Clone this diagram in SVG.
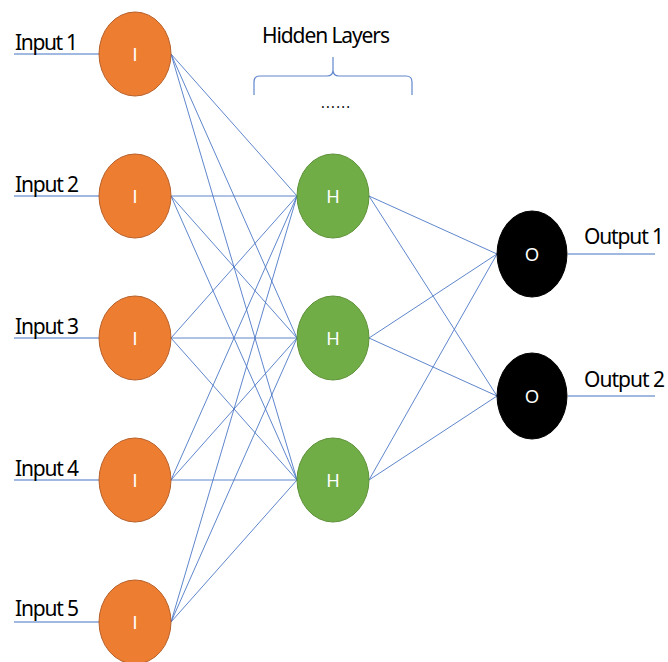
<svg xmlns="http://www.w3.org/2000/svg" width="668" height="662" viewBox="0 0 668 662">
<style>
.lbl{font-family:"Noto Sans","Open Sans",sans-serif;font-size:21px;fill:#000}
.nl{font-family:"Liberation Sans","DejaVu Sans",sans-serif;font-size:18px;fill:#fff;text-anchor:middle}
.in{fill:#ED7D31;stroke:#B8602A;stroke-width:1}
.hid{fill:#70AD47;stroke:#5E9238;stroke-width:1}
.out{fill:#000;stroke:#000;stroke-width:1}
.c line{stroke:#4472C4;stroke-width:1;opacity:0.85}
.io line{stroke:#4472C4;stroke-width:1.2}
</style>
<rect width="668" height="662" fill="#fff"/>
<g id="connectors" class="c">
<line x1="171" y1="54" x2="297" y2="196"/>
<line x1="171" y1="54" x2="297" y2="338"/>
<line x1="171" y1="54" x2="297" y2="480"/>
<line x1="171" y1="196" x2="297" y2="196"/>
<line x1="171" y1="196" x2="297" y2="338"/>
<line x1="171" y1="196" x2="297" y2="480"/>
<line x1="171" y1="338" x2="297" y2="196"/>
<line x1="171" y1="338" x2="297" y2="338"/>
<line x1="171" y1="338" x2="297" y2="480"/>
<line x1="171" y1="480" x2="297" y2="196"/>
<line x1="171" y1="480" x2="297" y2="338"/>
<line x1="171" y1="480" x2="297" y2="480"/>
<line x1="171" y1="622" x2="297" y2="196"/>
<line x1="171" y1="622" x2="297" y2="338"/>
<line x1="171" y1="622" x2="297" y2="480"/>
<line x1="369" y1="196" x2="497" y2="254"/>
<line x1="369" y1="196" x2="497" y2="396"/>
<line x1="369" y1="338" x2="497" y2="254"/>
<line x1="369" y1="338" x2="497" y2="396"/>
<line x1="369" y1="480" x2="497" y2="254"/>
<line x1="369" y1="480" x2="497" y2="396"/>
</g>
<g id="io-lines" class="io">
<line x1="14" y1="54" x2="99" y2="54"/>
<line x1="14" y1="196" x2="99" y2="196"/>
<line x1="14" y1="338" x2="99" y2="338"/>
<line x1="14" y1="480" x2="99" y2="480"/>
<line x1="14" y1="622" x2="99" y2="622"/>
<line x1="568" y1="254" x2="655" y2="254"/>
<line x1="568" y1="396" x2="655" y2="396"/>
</g>
<g id="input1"><ellipse class="in" cx="135" cy="54" rx="36" ry="42"/><text class="nl" x="135" y="61">I</text><text class="lbl" x="15" y="50" textLength="63">Input 1</text></g>
<g id="input2"><ellipse class="in" cx="135" cy="196" rx="36" ry="42"/><text class="nl" x="135" y="203">I</text><text class="lbl" x="15" y="192" textLength="64">Input 2</text></g>
<g id="input3"><ellipse class="in" cx="135" cy="338" rx="36" ry="42"/><text class="nl" x="135" y="345">I</text><text class="lbl" x="15" y="334" textLength="64">Input 3</text></g>
<g id="input4"><ellipse class="in" cx="135" cy="480" rx="36" ry="42"/><text class="nl" x="135" y="487">I</text><text class="lbl" x="15" y="476" textLength="64">Input 4</text></g>
<g id="input5"><ellipse class="in" cx="135" cy="622" rx="36" ry="42"/><text class="nl" x="135" y="629">I</text><text class="lbl" x="15" y="616" textLength="64">Input 5</text></g>
<g id="hidden1"><ellipse class="hid" cx="333" cy="196" rx="36" ry="42"/><text class="nl" x="333" y="203">H</text></g>
<g id="hidden2"><ellipse class="hid" cx="333" cy="338" rx="36" ry="42"/><text class="nl" x="333" y="345">H</text></g>
<g id="hidden3"><ellipse class="hid" cx="333" cy="480" rx="36" ry="42"/><text class="nl" x="333" y="487">H</text></g>
<g id="output1"><ellipse class="out" cx="532" cy="254" rx="35" ry="43"/><text class="nl" x="532" y="261">O</text><text class="lbl" x="584" y="244" textLength="80">Output 1</text></g>
<g id="output2"><ellipse class="out" cx="532" cy="396" rx="35" ry="43"/><text class="nl" x="532" y="403">O</text><text class="lbl" x="584" y="387" textLength="81">Output 2</text></g>
<g id="hidden-layers-label">
<text class="lbl" x="262" y="43" textLength="128">Hidden Layers</text>
<path d="M254,95 V82 Q254,76 260,76 H327 Q333,76 333,70 V57 V70 Q333,76 339,76 H406 Q412,76 412,82 V95" fill="none" stroke="#4472C4" stroke-width="1.2" opacity="0.85"/>
<text class="lbl" x="321" y="108" textLength="29" style="font-size:14px">......</text>
</g>
</svg>
